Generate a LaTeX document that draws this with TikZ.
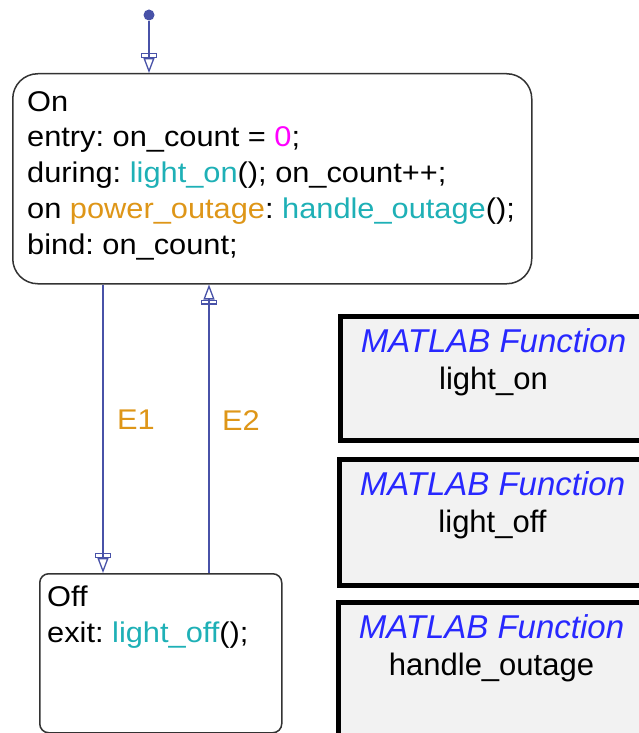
\documentclass[tikz,border=0pt]{standalone}
\usepackage{fontspec}
\setmainfont{Liberation Sans}
\newfontfamily\statefont{Liberation Sans}[FakeStretch=1.08]
\usetikzlibrary{arrows.meta,positioning}

\definecolor{transcol}{RGB}{72,82,168}
\definecolor{fncol}{RGB}{30,176,182}
\definecolor{evcol}{RGB}{222,150,24}
\definecolor{numcol}{RGB}{255,0,255}
\definecolor{mlblue}{RGB}{40,40,255}

\begin{document}
\frenchspacing
\begin{tikzpicture}[x=1pt, y=-1pt, font=\statefont\fontsize{28.5}{35.8}\selectfont,
    state/.style={draw=black!80, line width=1.5pt, anchor=north west, inner sep=0pt},
    statetxt/.style={anchor=north west, align=left, inner sep=0pt},
    trans/.style={draw=transcol, line width=1.3pt,
        -{Rectangle[open, length=5pt, width=16pt] Triangle[open, length=15pt, width=11pt]}},
    elabel/.style={text=evcol},
    mlfcn/.style={draw=black, line width=5pt, fill=gray!10, anchor=north west,
        minimum width=306pt, inner sep=0pt},
    mltxt/.style={align=center, inner sep=0pt, font=\rmfamily\fontsize{31}{37}\selectfont}]

    \useasboundingbox (0,0) rectangle (639,733);
    \clip (0,0) rectangle (639,733);

    % states
    \node[state, rounded corners=25pt, minimum width=519pt, minimum height=210pt] (on) at (12,73) {};
    \node[state, rounded corners=9pt, minimum width=242pt, minimum height=159pt] (off) at (39,573) {};

    \node[statetxt] (ontxt) at (27,91) {On\\
        entry: on\_count = \textcolor{numcol}{0};\\
        during: \textcolor{fncol}{light\_on}(); on\_count++;\\
        on \textcolor{evcol}{power\_outage}: \textcolor{fncol}{handle\_outage}();\\
        bind: on\_count;};
    \node[statetxt] (offtxt) at (47,586) {Off\\
        exit: \textcolor{fncol}{light\_off}();};

    % default transition
    \node[circle, fill=transcol, inner sep=0pt, minimum size=11pt] (init) at (149,15) {};
    \draw[trans] (init) -- (init |- on.north);

    % transitions
    \coordinate (e1) at (103,0);
    \coordinate (e2) at (209,0);
    \draw[trans] (on.south -| e1) -- (off.north -| e1);
    \draw[trans] (off.north -| e2) -- (on.south -| e2);
    \node[elabel] (e1lab) at (136,420) {E1};
    \node[elabel] (e2lab) at (241,421) {E2};

    % MATLAB functions
    \node[mlfcn, minimum height=124pt] (lon) at (338,314) {};
    \node[mlfcn, minimum height=126pt] (loff) at (337,457) {};
    \node[mlfcn, minimum height=170pt] (hout) at (336,600) {};

    \node[mltxt, below=14pt of lon.north] (lontxt) {\textcolor{mlblue}{\fontsize{33}{37}\selectfont\itshape MATLAB Function}\\ light\_on};
    \node[mltxt, below=14pt of loff.north] (lofftxt) {\textcolor{mlblue}{\fontsize{33}{37}\selectfont\itshape MATLAB Function}\\ light\_off};
    \node[mltxt, below=14pt of hout.north] (houttxt) {\textcolor{mlblue}{\fontsize{33}{37}\selectfont\itshape MATLAB Function}\\ handle\_outage};

\end{tikzpicture}
\end{document}
